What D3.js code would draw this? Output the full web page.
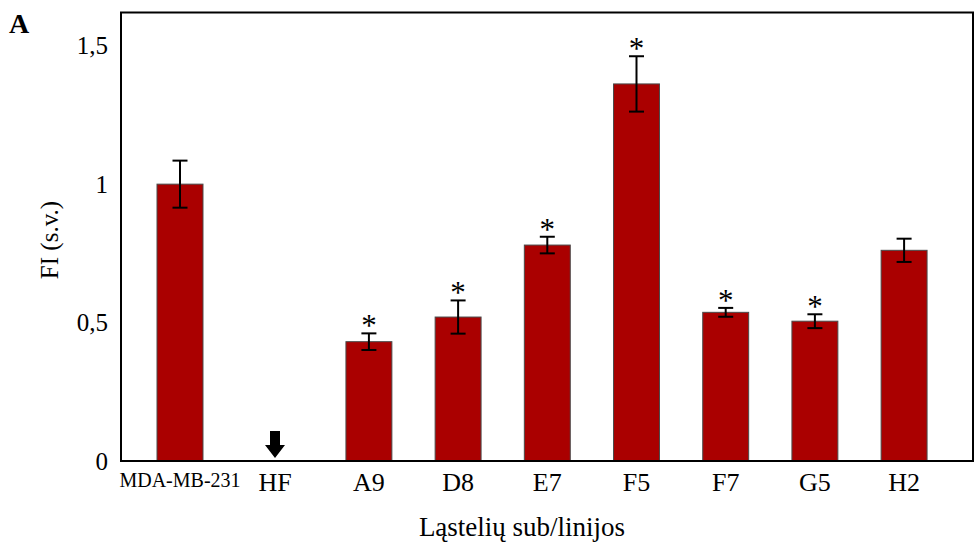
<!DOCTYPE html>
<html>
<head>
<meta charset="utf-8">
<script src="https://cdn.jsdelivr.net/npm/d3@7"></script>
<style>
    body { margin: 0; background: #fff; }
    text { font-family: "Liberation Serif", "Times New Roman", serif; fill: #000; }
</style>
</head>
<body>
<div id="chart"></div>
<script>
const categories = ["MDA-MB-231", "HF", "A9", "D8", "E7", "F5", "F7", "G5", "H2"];
const controls = ["MDA-MB-231", "HF"];
const lines = ["A9", "D8", "E7", "F5", "F7", "G5", "H2"];
// HF has no value -> drawn as arrow
const values = [1.0, null, 0.431, 0.52, 0.78, 1.362, 0.537, 0.505, 0.761];
const errors = [0.085, null, 0.03, 0.06, 0.03, 0.1, 0.016, 0.025, 0.042];
const significant = [false, false, true, true, true, true, true, true, false];
const yTicks = [0, 0.5, 1, 1.5];

(function () {
    const width = 975, height = 543;
    const margin = { left: 121, right: 2, top: 12.5, bottom: 82 };
    const svg = d3.select("#chart")
        .append("svg")
        .attr("width", width)
        .attr("height", height);

    const data = categories.map((c, i) => ({
        name: c, value: values[i], err: errors[i], sig: significant[i]
    }));

    const xCtrl = d3.scaleBand()
        .domain(controls)
        .range([margin.left, 334])
        .paddingInner(0.516)
        .paddingOuter(0.379);
    const xLine = d3.scaleBand()
        .domain(lines)
        .range([300, width - margin.right])
        .paddingInner(0.485)
        .paddingOuter(0.515);
    const xs = d => controls.includes(d) ? xCtrl : xLine;
    const xPos = d => xs(d)(d);
    const bw = d => xs(d).bandwidth();

    const y = d3.scaleLinear()
        .domain([0, 1.62])
        .range([height - margin.bottom, margin.top]);

    const fmt = d3.formatLocale({ decimal: ",", thousands: " ", grouping: [3], currency: ["", ""] }).format("~g");

    // y axis
    svg.append("g")
        .attr("transform", `translate(${margin.left},0)`)
        .call(d3.axisLeft(y).tickValues(yTicks).tickSize(0).tickPadding(13).tickFormat(fmt))
        .call(g => g.select(".domain").remove())
        .call(g => g.selectAll("text")
            .attr("font-size", 25)
            .attr("font-family", "Liberation Serif"));

    // x axes
    [xCtrl, xLine].forEach(sc => {
        svg.append("g")
            .attr("transform", `translate(0,${height - margin.bottom})`)
            .call(d3.axisBottom(sc).tickSize(0).tickPadding(12))
            .call(g => g.select(".domain").remove())
            .call(g => g.selectAll("text")
                .attr("font-size", d => d === "MDA-MB-231" ? 20 : 26)
                .attr("font-family", "Liberation Serif"));
    });

    const withVal = data.filter(d => d.value !== null);

    // bars
    svg.append("g")
        .selectAll("rect")
        .data(withVal)
        .join("rect")
        .attr("x", d => xPos(d.name))
        .attr("y", d => y(d.value))
        .attr("width", d => bw(d.name))
        .attr("height", d => y(0) - y(d.value))
        .attr("fill", "#aa0000")
        .attr("stroke", "#4a4a4a")
        .attr("stroke-width", 1);

    // error bars
    const eb = svg.append("g")
        .attr("stroke", "#000")
        .attr("stroke-width", 2)
        .selectAll("g")
        .data(withVal)
        .join("g")
        .attr("transform", d => `translate(${xPos(d.name) + bw(d.name) / 2},0)`);
    eb.append("line")
        .attr("y1", d => y(d.value + d.err))
        .attr("y2", d => y(d.value - d.err));
    eb.append("line")
        .attr("x1", -7.5).attr("x2", 7.5)
        .attr("y1", d => y(d.value + d.err))
        .attr("y2", d => y(d.value + d.err));
    eb.append("line")
        .attr("x1", -7.5).attr("x2", 7.5)
        .attr("y1", d => y(d.value - d.err))
        .attr("y2", d => y(d.value - d.err));

    // significance stars
    svg.append("g")
        .selectAll("text")
        .data(withVal.filter(d => d.sig))
        .join("text")
        .attr("x", d => xPos(d.name) + bw(d.name) / 2)
        .attr("y", d => y(d.value + d.err) + 3)
        .attr("text-anchor", "middle")
        .attr("font-size", 31)
        .text("*");

    // arrow for missing value (HF)
    svg.append("g")
        .selectAll("path")
        .data(data.filter(d => d.value === null))
        .join("path")
        .attr("transform", d => `translate(${xPos(d.name) + bw(d.name) / 2},${y(0) - 3})`)
        .attr("d", "M-5,-27 L5,-27 L5,-13 L10,-13 L0,0 L-10,-13 L-5,-13 Z")
        .attr("fill", "#000");

    // frame
    svg.append("rect")
        .attr("x", margin.left)
        .attr("y", margin.top)
        .attr("width", width - margin.right - margin.left)
        .attr("height", y(0) - margin.top)
        .attr("fill", "none")
        .attr("stroke", "#000")
        .attr("stroke-width", 2);

    // titles
    svg.append("text")
        .text("Ląstelių sub/linijos")
        .attr("x", 522)
        .attr("y", 536)
        .attr("text-anchor", "middle")
        .attr("font-size", 27);
    svg.append("text")
        .text("FI (s.v.)")
        .attr("transform", "translate(58,240) rotate(-90)")
        .attr("text-anchor", "middle")
        .attr("font-size", 25);
    svg.append("text")
        .text("A")
        .attr("x", 9)
        .attr("y", 33)
        .attr("font-size", 28)
        .attr("font-weight", 700);
})();
</script>
</body>
</html>
